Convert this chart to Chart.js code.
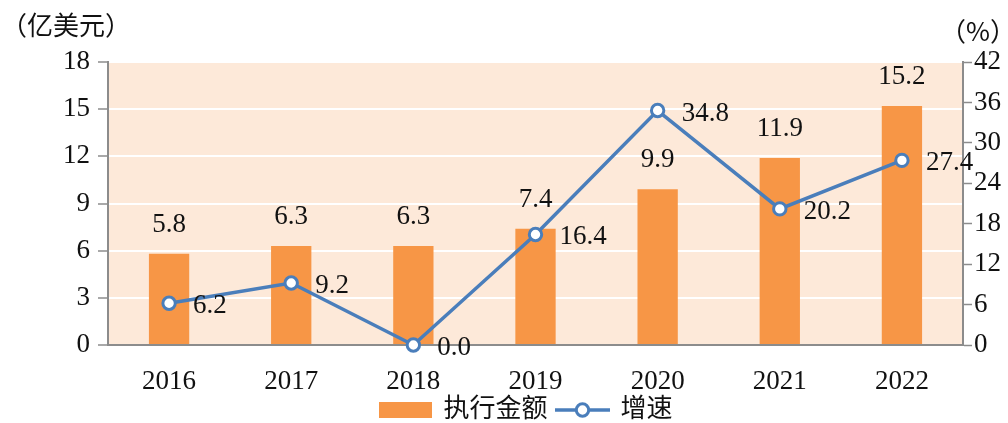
<!DOCTYPE html>
<html><head><meta charset="utf-8">
<script src="https://cdn.jsdelivr.net/npm/chart.js@4.4.0/dist/chart.umd.min.js"></script>
<style>html,body{margin:0;padding:0;background:#fff;} #wrap{width:1008px;height:423px;position:relative;}</style>
</head><body><div id="wrap"><canvas id="c" width="1008" height="423"></canvas></div>
<script>
const categories = ['2016','2017','2018','2019','2020','2021','2022'];
const amountValues = [5.8, 6.3, 6.3, 7.4, 9.9, 11.9, 15.2];
const growthValues = [6.2, 9.2, 0.0, 16.4, 34.8, 20.2, 27.4];
const leftTicks = [0, 3, 6, 9, 12, 15, 18];
const rightTicks = [0, 6, 12, 18, 24, 30, 36, 42];
const seriesNames = ['执行金额', '增速'];
const leftUnit = '（亿美元）';
const rightUnit = '（%）';

const ORANGE = '#F79646', BLUE = '#4A7EBB', PEACH = '#FDE9D9', AXIS = '#8C8C8C', TEXT = '#111';
const SERIF = "'Liberation Serif', 'Noto Sans CJK SC', serif";

function makeBoxImg() {
  const c = document.createElement('canvas'); c.width = 53; c.height = 16;
  const g = c.getContext('2d'); g.fillStyle = ORANGE; g.fillRect(0, 0, 53, 16); return c;
}
function makeLineImg() {
  const c = document.createElement('canvas'); c.width = 55; c.height = 18;
  const g = c.getContext('2d');
  g.strokeStyle = BLUE; g.lineWidth = 3.5; g.beginPath(); g.moveTo(0, 9); g.lineTo(55, 9); g.stroke();
  g.beginPath(); g.arc(27.5, 9, 6.2, 0, Math.PI * 2); g.fillStyle = '#fff'; g.fill(); g.lineWidth = 3; g.stroke();
  return c;
}
const legendImgs = [makeBoxImg(), makeLineImg()];

const decor = {
  id: 'decor',
  afterLayout(chart) {
    const l = chart.legend;
    if (l) { l.top -= 5; l.bottom -= 5; l.left -= 9; l.right -= 9; }
  },
  beforeDraw(chart) {
    const {ctx, chartArea: a} = chart;
    ctx.save(); ctx.fillStyle = PEACH; ctx.fillRect(a.left, a.top, a.right - a.left, a.bottom - a.top); ctx.restore();
  },
  afterDraw(chart) {
    const ctx = chart.ctx;
    ctx.save();
    ctx.fillStyle = TEXT;
    ctx.font = "27px 'Liberation Serif'";
    ctx.textBaseline = 'alphabetic';
    chart.getDatasetMeta(0).data.forEach((el, i) => {
      ctx.textAlign = 'center';
      ctx.fillText(amountValues[i].toFixed(1), el.x, el.y - 22);
    });
    chart.getDatasetMeta(1).data.forEach((el, i) => {
      ctx.textAlign = 'left';
      ctx.fillText(growthValues[i].toFixed(1), el.x + 24, el.y + 10);
    });
    ctx.font = "26px 'Noto Sans CJK SC'";
    ctx.textBaseline = 'middle'; ctx.textAlign = 'center';
    ctx.fillText(leftUnit, 66, 25);
    ctx.fillText(rightUnit, 978, 31);
    ctx.restore();
  }
};

Chart.defaults.font.family = SERIF;
Chart.defaults.color = TEXT;

new Chart(document.getElementById('c'), {
  type: 'bar',
  data: {
    labels: categories,
    datasets: [
      { type: 'bar', label: seriesNames[0], data: amountValues, backgroundColor: ORANGE, yAxisID: 'y',
        barPercentage: 0.33, categoryPercentage: 1, order: 1 },
      { type: 'line', label: seriesNames[1], data: growthValues, yAxisID: 'y1', borderColor: BLUE, borderWidth: 3.5,
        pointRadius: 6.2, pointBorderWidth: 3, pointBackgroundColor: '#fff', pointBorderColor: BLUE,
        tension: 0, clip: false, order: 0 }
    ]
  },
  options: {
    responsive: false, animation: false, devicePixelRatio: 1,
    layout: { padding: { top: 62, bottom: -15, left: 0, right: 0 } },
    plugins: {
      tooltip: { enabled: false },
      legend: {
        position: 'bottom', fullSize: false,
        labels: {
          usePointStyle: true, pointStyleWidth: 50, boxHeight: 14, padding: 10, color: TEXT,
          font: { size: 26, family: SERIF },
          generateLabels: (chart) => chart.data.datasets.map((ds, i) => ({
            text: ds.label, pointStyle: legendImgs[i], datasetIndex: i, hidden: false,
            lineWidth: 0, fillStyle: 'transparent', strokeStyle: 'transparent', fontColor: TEXT
          }))
        }
      }
    },
    scales: {
      x: {
        grid: { drawOnChartArea: false, drawTicks: false },
        border: { display: true, color: AXIS, width: 2 },
        ticks: { padding: 21, font: { size: 27 }, color: TEXT },
        afterFit: (s) => { s.height = 47; }
      },
      y: {
        position: 'left', min: 0, max: 18,
        afterBuildTicks: (s) => { s.ticks = leftTicks.map(v => ({ value: v })); },
        grid: { color: (c) => (c.tick && c.tick.value === 0) ? 'rgba(0,0,0,0)' : '#ffffff', lineWidth: 2,
                tickColor: AXIS, tickLength: 10, tickWidth: 1.5 },
        border: { color: AXIS, width: 2 },
        ticks: { padding: 8, font: { size: 27 }, color: TEXT },
        afterFit: (s) => { s.width = 108; }
      },
      y1: {
        position: 'right', min: 0, max: 42,
        afterBuildTicks: (s) => { s.ticks = rightTicks.map(v => ({ value: v })); },
        grid: { drawOnChartArea: false, tickColor: AXIS, tickLength: 9, tickWidth: 1.5 },
        border: { color: AXIS, width: 2 },
        ticks: { padding: 2, font: { size: 27 }, color: TEXT },
        afterFit: (s) => { s.width = 45; }
      }
    }
  },
  plugins: [decor]
});
</script></body></html>
